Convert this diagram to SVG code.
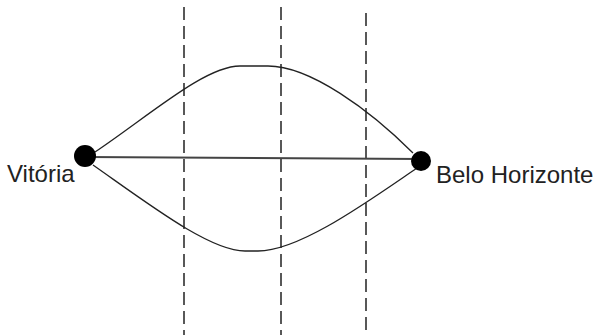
<svg xmlns="http://www.w3.org/2000/svg" width="598" height="335" viewBox="0 0 598 335">
<style>
.dash{stroke:#222;stroke-width:1.5;stroke-dasharray:13,6;fill:none}
.curve{stroke:#222;stroke-width:1.3;fill:none}
.straight{stroke:#444;stroke-width:2.2;fill:none}
.node{fill:#000}
.label{font-family:"Liberation Sans",Arial,sans-serif;font-size:24px;fill:#222}
</style>
<rect width="598" height="335" fill="#fff"/>
<g id="connectors">
<line class="dash" x1="184" y1="7" x2="184" y2="335"/>
<line class="dash" x1="281" y1="7" x2="281" y2="335"/>
<line class="dash" x1="366" y1="13" x2="366" y2="335"/>
<line class="straight" x1="85" y1="157" x2="421" y2="159"/>
<path class="curve" d="M95,152 C150,115 205,66 240,66 L268,66 C310,66 370,110 413,153"/>
<path class="curve" d="M93,165 C150,205 210,251 245,251 L258,251 C300,251 370,200 417,168"/>
</g>
<g id="vitoria">
<circle class="node" cx="85" cy="156" r="11"/>
<text class="label" x="7" y="182">Vitória</text>
</g>
<g id="belo-horizonte">
<circle class="node" cx="421" cy="161" r="10"/>
<text class="label" x="436" y="183">Belo Horizonte</text>
</g>
</svg>
